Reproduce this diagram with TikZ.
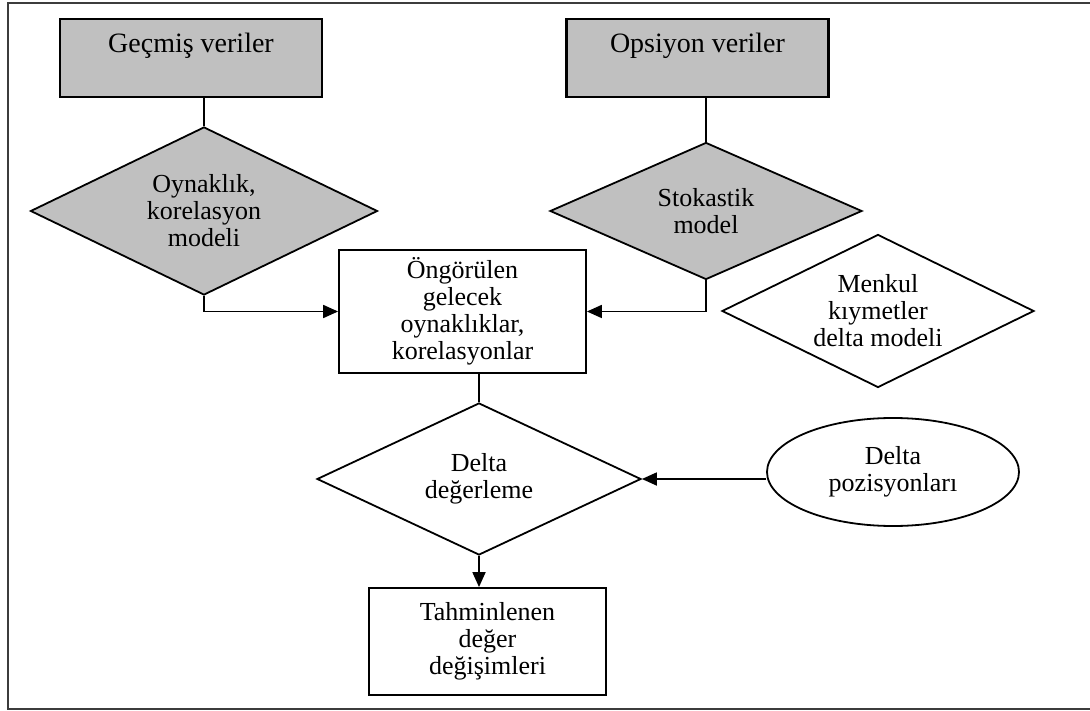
\documentclass[tikz,border=0pt]{standalone}
\usepackage{fontspec}
\setmainfont{Liberation Serif}
\usepackage{tikz}
\usetikzlibrary{shapes.geometric, arrows.meta, positioning}
\definecolor{BoxGray}{HTML}{C0C0C0}
\definecolor{FrameGray}{HTML}{3C3C3C}

\begin{document}
\begin{tikzpicture}[
			x=1pt, y=-1pt,
			databox/.style={rectangle, draw, line width=2.2pt, fill=BoxGray, minimum width=262pt, inner sep=0pt, text height=34pt, text depth=44pt, font=\fontsize{28}{30}\selectfont},
			modelbox/.style={diamond, draw, line width=1.8pt, aspect=2, inner sep=0pt, align=center, font=\fontsize{26}{27}\selectfont},
			outbox/.style={rectangle, draw, line width=1.8pt, inner sep=0pt, align=center, font=\fontsize{26}{27}\selectfont},
			arrow/.style={-{Triangle[length=15pt, width=13pt]}, line width=1.8pt},
			link/.style={line width=1.8pt}
			]
			\useasboundingbox (0,0) rectangle (1090,711);
			\draw[FrameGray, line width=2.2pt] (1092,3) -- (8,3) -- (8,709) -- (1092,709);

			% Nodes
			\node (hist) [databox] at (191,58) {Geçmiş veriler};
			\node (opt) [databox] at (697.5,58) {Opsiyon veriler};
			\node (vol) [modelbox, fill=BoxGray, minimum width=347pt, minimum height=168pt] at (204,211) {Oynaklık,\\korelasyon\\modeli};
			\node (stoch) [modelbox, fill=BoxGray, minimum width=312pt, minimum height=137pt] at (706,211) {Stokastik\\model};
			\node (fore) [outbox, minimum width=247pt, minimum height=123pt] at (462.5,311.5) {Öngörülen\\gelecek\\oynaklıklar,\\korelasyonlar};
			\node (sec) [modelbox, minimum width=312pt, minimum height=153pt] at (878,311) {Menkul\\kıymetler\\delta modeli};
			\node (val) [modelbox, minimum width=324pt, minimum height=152pt] at (479,479) {Delta\\değerleme};
			\node (pos) [ellipse, draw, line width=1.8pt, inner sep=0pt, minimum width=252pt, minimum height=108pt, align=center, font=\fontsize{26}{27}\selectfont] at (893,472) {Delta\\pozisyonları};
			\node (res) [outbox, minimum width=237pt, minimum height=107pt] at (487.5,641.5) {Tahminlenen\\değer\\değişimleri};

			% Arrows
			\draw[link] (vol.north |- hist.south) -- (vol.north);
			\draw[link] (stoch.north |- opt.south) -- (stoch.north);
			\draw[arrow] (vol.south) |- (fore.west);
			\draw[arrow] (stoch.south) |- (fore.east);
			\draw[link] (val.north |- fore.south) -- (val.north);
			\draw[arrow] (pos.west |- val.east) -- (val.east);
			\draw[arrow] (val.south) -- (val.south |- res.north);
		\end{tikzpicture}
\end{document}
